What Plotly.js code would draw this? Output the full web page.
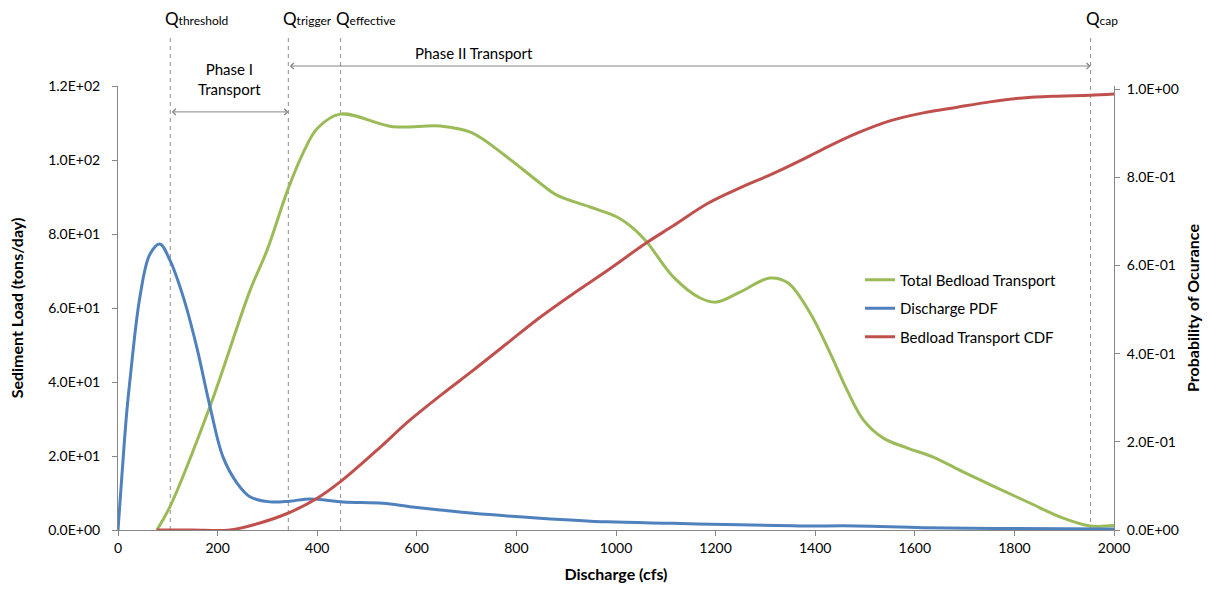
<!DOCTYPE html>
<html>
<head>
<meta charset="utf-8">
<script src="https://cdn.plot.ly/plotly-3.0.1.min.js"></script>
<style>html,body{margin:0;padding:0;background:#fff;}#chart{width:1209px;height:591px;}</style>
</head>
<body>
<div id="chart"></div>
<script>
// ---- data ----
const bedloadX = [78, 104, 185, 265, 299, 341, 372, 400, 446, 552, 647, 710, 781, 847, 881, 948, 1002, 1034, 1062, 1115, 1169, 1202, 1249, 1309, 1345, 1390, 1430, 1464, 1497, 1536, 1584, 1637, 1697, 1765, 1831, 1898, 1952, 2000];
const bedloadY = [0, 6.2, 33.5, 64.7, 75.5, 92, 102, 108.5, 112.4, 109, 109.2, 107.4, 100.8, 93.8, 90.5, 87.3, 84.6, 81.6, 77.8, 68.4, 62.7, 61.6, 64.3, 68.1, 66.8, 58.6, 47.8, 37.8, 29.7, 24.9, 22.2, 19.7, 15.7, 11.4, 7.3, 3.2, 1.1, 1.2];

const pdfX = [0, 8, 17, 24, 44, 64, 84, 104, 131, 158, 185, 211, 239, 265, 305, 345, 386, 452, 532, 586, 647, 713, 847, 982, 1115, 1249, 1369, 1484, 1617, 1800, 2000];
const pdfY = [0, 15, 31, 40.5, 63, 74.5, 77.3, 73, 63, 49.5, 33.2, 19.7, 12.7, 9.0, 7.6, 7.8, 8.4, 7.6, 7.2, 6.3, 5.4, 4.5, 3.2, 2.2, 1.8, 1.4, 1.1, 1.1, 0.6, 0.4, 0.3];

const cdfX = [78, 150, 225, 285, 341, 400, 446, 520, 586, 653, 713, 781, 847, 914, 982, 1062, 1115, 1183, 1249, 1315, 1369, 1416, 1484, 1550, 1617, 1685, 1751, 1817, 1886, 1952, 2000];
const cdfY = [0, 0, 0, 0.016, 0.038, 0.072, 0.109, 0.181, 0.249, 0.31, 0.362, 0.423, 0.482, 0.536, 0.588, 0.652, 0.69, 0.74, 0.776, 0.808, 0.837, 0.864, 0.9, 0.928, 0.946, 0.959, 0.971, 0.98, 0.984, 0.986, 0.989];

const seriesNames = ['Total Bedload Transport', 'Discharge PDF', 'Bedload Transport CDF'];

const xTickVals = [0, 200, 400, 600, 800, 1000, 1200, 1400, 1600, 1800, 2000];
const xTickLabels = ['0', '200', '400', '600', '800', '1000', '1200', '1400', '1600', '1800', '2000'];
const yLeftTickVals = [0, 20, 40, 60, 80, 100, 120];
const yLeftTickLabels = ['0.0E+00', '2.0E+01', '4.0E+01', '6.0E+01', '8.0E+01', '1.0E+02', '1.2E+02'];
const yRightTickVals = [0, 0.2, 0.4, 0.6, 0.8, 1.0];
const yRightTickLabels = ['0.0E+00', '2.0E-01', '4.0E-01', '6.0E-01', '8.0E-01', '1.0E+00'];

const qNames = ['threshold', 'trigger', 'effective', 'cap'];
const qValues = [105, 342, 447, 1953];

// ---- styling ----
const FONT = 'Lato, "Open Sans", sans-serif';
const GREY = '#868686';
const DASH = '#8f8f8f';

const traces = [
  {x: bedloadX, y: bedloadY, name: seriesNames[0], type: 'scatter', mode: 'lines',
   line: {color: '#9BBB59', width: 3, shape: 'spline', smoothing: 1}, legendgroup: 'a', yaxis: 'y'},
  {x: pdfX, y: pdfY, name: seriesNames[1], type: 'scatter', mode: 'lines',
   line: {color: '#4F81BD', width: 3, shape: 'spline', smoothing: 1}, legendgroup: 'b', yaxis: 'y'},
  {x: cdfX, y: cdfY, name: seriesNames[2], type: 'scatter', mode: 'lines',
   line: {color: '#C0504D', width: 3, shape: 'spline', smoothing: 1}, legendgroup: 'c', yaxis: 'y2'}
];

const shapes = qValues.map(v => ({
  type: 'line', xref: 'x', yref: 'paper', x0: v, x1: v, y0: 0, y1: 1.117,
  line: {color: DASH, width: 1, dash: '4px,4px'}, layer: 'below'
}));

const annotations = [];
qNames.forEach((n, i) => {
  annotations.push({
    x: qValues[i], xref: 'x', y: 1.153, yref: 'paper', xanchor: 'left', yanchor: 'middle',
    xshift: -7, showarrow: false,
    text: 'Q<span style="font-size:12px">' + n + '</span>', font: {family: FONT, size: 17, color: '#000'}
  });
});
// Phase I
annotations.push({x: qValues[1], y: 113, xref: 'x', yref: 'y', ax: qValues[0], ay: 113, axref: 'x', ayref: 'y',
  showarrow: true, arrowside: 'end+start', arrowhead: 4, startarrowhead: 4, arrowsize: 1.2, startarrowsize: 1.2,
  arrowwidth: 1, arrowcolor: GREY, standoff: 0, startstandoff: 0, text: ''});
annotations.push({x: (qValues[0] + qValues[1]) / 2, y: 1.016, xref: 'x', yref: 'paper', xanchor: 'center', yanchor: 'middle',
  showarrow: false, text: 'Phase I<br>Transport', align: 'center', font: {family: FONT, size: 15, color: '#000'}});
// Phase II
annotations.push({x: qValues[3], y: 1.045, xref: 'x', yref: 'paper', ax: qValues[1], ay: 0, axref: 'x', ayref: 'pixel',
  showarrow: true, arrowside: 'end+start', arrowhead: 4, startarrowhead: 4, arrowsize: 1.2, startarrowsize: 1.2,
  arrowwidth: 1, arrowcolor: GREY, standoff: 0, startstandoff: 0, text: ''});
annotations.push({x: 714, y: 1.074, xref: 'x', yref: 'paper', xanchor: 'center', yanchor: 'middle',
  showarrow: false, text: 'Phase II Transport', font: {family: FONT, size: 15, color: '#000'}});

const layout = {
  width: 1209, height: 591,
  margin: {l: 118, r: 95, t: 86, b: 61, pad: 0},
  paper_bgcolor: '#fff', plot_bgcolor: '#fff',
  font: {family: FONT, size: 14, color: '#000'},
  showlegend: true,
  legend: {x: 0.745, y: 0.6, xanchor: 'left', yanchor: 'top', bgcolor: 'rgba(0,0,0,0)',
           font: {family: FONT, size: 15, color: '#000'}, tracegroupgap: 6, itemwidth: 30},
  xaxis: {range: [0, 2000], tickvals: xTickVals, ticktext: xTickLabels, showgrid: false, zeroline: false,
          showline: true, linecolor: GREY, linewidth: 1, ticks: 'outside', ticklen: 5, tickcolor: GREY,
          tickfont: {family: FONT, size: 14}, fixedrange: true,
          title: {text: '<b>Discharge (cfs)</b>', font: {family: FONT, size: 16}, standoff: 14}},
  yaxis: {range: [0, 120], tickvals: yLeftTickVals, ticktext: yLeftTickLabels, showgrid: false, zeroline: false,
          showline: true, linecolor: GREY, linewidth: 1, ticks: 'outside', ticklen: 5, tickcolor: GREY,
          tickfont: {family: FONT, size: 14}, ticklabelstandoff: 9,
          title: {text: '<b>Sediment Load (tons/day)</b>', font: {family: FONT, size: 16}, standoff: 20}},
  yaxis2: {range: [0, 1.007], overlaying: 'y', side: 'right', tickvals: yRightTickVals, ticktext: yRightTickLabels,
           showgrid: false, zeroline: false, showline: true, linecolor: GREY, linewidth: 1, ticks: 'outside',
           ticklen: 5, tickcolor: GREY, tickfont: {family: FONT, size: 14}, ticklabelstandoff: 4,
           title: {text: '<b>Probability of Ocurance</b>', font: {family: FONT, size: 16}, standoff: 10}},
  shapes: shapes,
  annotations: annotations
};

Plotly.newPlot('chart', traces, layout, {displayModeBar: false, staticPlot: true});
</script>
</body>
</html>
